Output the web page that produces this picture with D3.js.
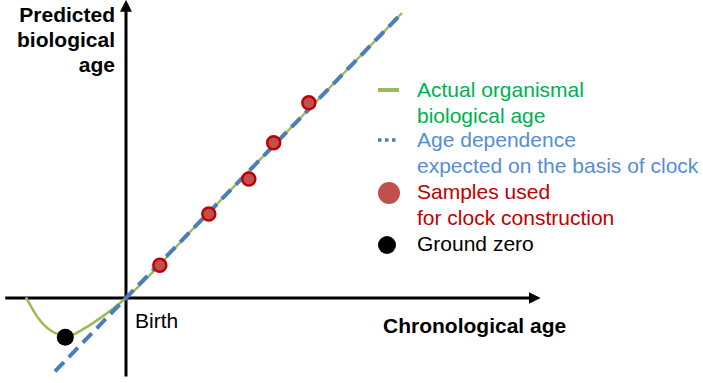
<!DOCTYPE html>
<html>
<head>
<meta charset="utf-8">
<script src="https://cdn.jsdelivr.net/npm/d3@7"></script>
<style>
  body { margin: 0; background: #fff; }
  svg { display: block; font-family: "Liberation Sans", Arial, sans-serif; }
</style>
</head>
<body>
<div id="vizDiv"></div>
<script>
var width = 703
var height = 383

// green curve: actual organismal biological age
var actualX = [-1.45, -1.25, -1.03, -0.84, -0.59, -0.30, 0, 1, 2, 3, 4]
var actualY = [0.01, -0.31, -0.49, -0.53, -0.42, -0.23, 0, 1, 2, 3, 4]
// blue dashed: expected from the clock
var expectedX = [-1.03, 4]
var expectedY = [-1.03, 4]
// red samples
var sampleX = [0.49, 1.20, 1.78, 2.14, 2.65]
var sampleY = [0.46, 1.18, 1.67, 2.18, 2.74]
// ground zero
var zeroX = [-0.88]
var zeroY = [-0.55]

var legendLabels = [
    ["Actual organismal", "biological age"],
    ["Age dependence", "expected on the basis of clock"],
    ["Samples used", "for clock construction"],
    ["Ground zero"]
]
var legendColors = ["#00b050", "#558ed5", "#c00000", "#000000"]

var x = d3.scaleLinear().domain([0, 4]).range([126, 402])
var y = d3.scaleLinear().domain([0, 4]).range([298, 13])

var svg = d3.select("#vizDiv")
    .append("svg")
    .attr("width", width)
    .attr("height", height)

var defs = svg.append("defs")
defs.append("marker")
    .attr("id", "arrow")
    .attr("viewBox", [0, 0, 10, 10])
    .attr("refX", 2)
    .attr("refY", 5)
    .attr("markerWidth", 4)
    .attr("markerHeight", 4)
    .attr("orient", "auto")
    .append("path")
    .attr("d", "M0,0 L10,5 L0,10 Z")
    .attr("fill", "black")

// axes
svg.append("line")
    .attr("x1", x(-1.75)).attr("x2", x(5.87))
    .attr("y1", y(0)).attr("y2", y(0))
    .attr("stroke", "black").attr("stroke-width", 3)
    .attr("marker-end", "url(#arrow)")

svg.append("line")
    .attr("x1", x(0)).attr("x2", x(0))
    .attr("y1", y(-1.1)).attr("y2", y(4.05))
    .attr("stroke", "black").attr("stroke-width", 3)
    .attr("marker-end", "url(#arrow)")

var line = d3.line()
    .x(function(d) { return x(d[0]) })
    .y(function(d) { return y(d[1]) })

var actualPts = actualX.map(function(v, i) { return [v, actualY[i]] })
svg.append("path")
    .attr("d", line.curve(d3.curveMonotoneX)(actualPts))
    .attr("fill", "none")
    .attr("stroke", "#9bbb59")
    .attr("stroke-width", 2.5)

var expectedPts = expectedX.map(function(v, i) { return [v, expectedY[i]] })
svg.append("path")
    .attr("d", d3.line().x(function(d) { return x(d[0]) }).y(function(d) { return y(d[1]) })(expectedPts))
    .attr("fill", "none")
    .attr("stroke", "#4a7ebb")
    .attr("stroke-width", 4)
    .attr("stroke-dasharray", "13,7")

svg.selectAll(".sample")
    .data(sampleX)
    .enter()
    .append("circle")
    .attr("class", "sample")
    .attr("cx", function(d) { return x(d) })
    .attr("cy", function(d, i) { return y(sampleY[i]) })
    .attr("r", 6.5)
    .style("fill", "#c0504d")
    .style("stroke", "#c00000")
    .style("stroke-width", 2.5)

svg.selectAll(".zero")
    .data(zeroX)
    .enter()
    .append("circle")
    .attr("class", "zero")
    .attr("cx", function(d) { return x(d) })
    .attr("cy", function(d, i) { return y(zeroY[i]) })
    .attr("r", 8.5)
    .style("fill", "black")

// axis titles
var yTitle = ["Predicted", "biological", "age"]
yTitle.forEach(function(t, i) {
    svg.append("text")
        .attr("x", 115)
        .attr("y", 22 + i * 25)
        .attr("text-anchor", "end")
        .style("font-size", "21px")
        .style("font-weight", "bold")
        .text(t)
})

svg.append("text")
    .attr("x", 383)
    .attr("y", 333)
    .style("font-size", "21px")
    .style("font-weight", "bold")
    .text("Chronological age")

svg.append("text")
    .attr("x", 135)
    .attr("y", 328)
    .style("font-size", "21px")
    .text("Birth")

// legend
var legendTop = [97, 147, 199, 251]
var legendX = 417
legendLabels.forEach(function(lines, i) {
    lines.forEach(function(t, j) {
        svg.append("text")
            .attr("x", legendX)
            .attr("y", legendTop[i] + j * 26)
            .style("font-size", "21px")
            .style("fill", legendColors[i])
            .text(t)
    })
})

svg.append("line")
    .attr("x1", 378).attr("x2", 399)
    .attr("y1", 90).attr("y2", 90)
    .attr("stroke", "#9bbb59").attr("stroke-width", 4)

svg.append("line")
    .attr("x1", 378).attr("x2", 399)
    .attr("y1", 140).attr("y2", 140)
    .attr("stroke", "#4a7ebb").attr("stroke-width", 3.5)
    .attr("stroke-dasharray", "3.5,3.5")

svg.append("circle")
    .attr("cx", 389).attr("cy", 193).attr("r", 11)
    .style("fill", "#c0504d")

svg.append("circle")
    .attr("cx", 387).attr("cy", 245).attr("r", 9)
    .style("fill", "black")
</script>
</body>
</html>
